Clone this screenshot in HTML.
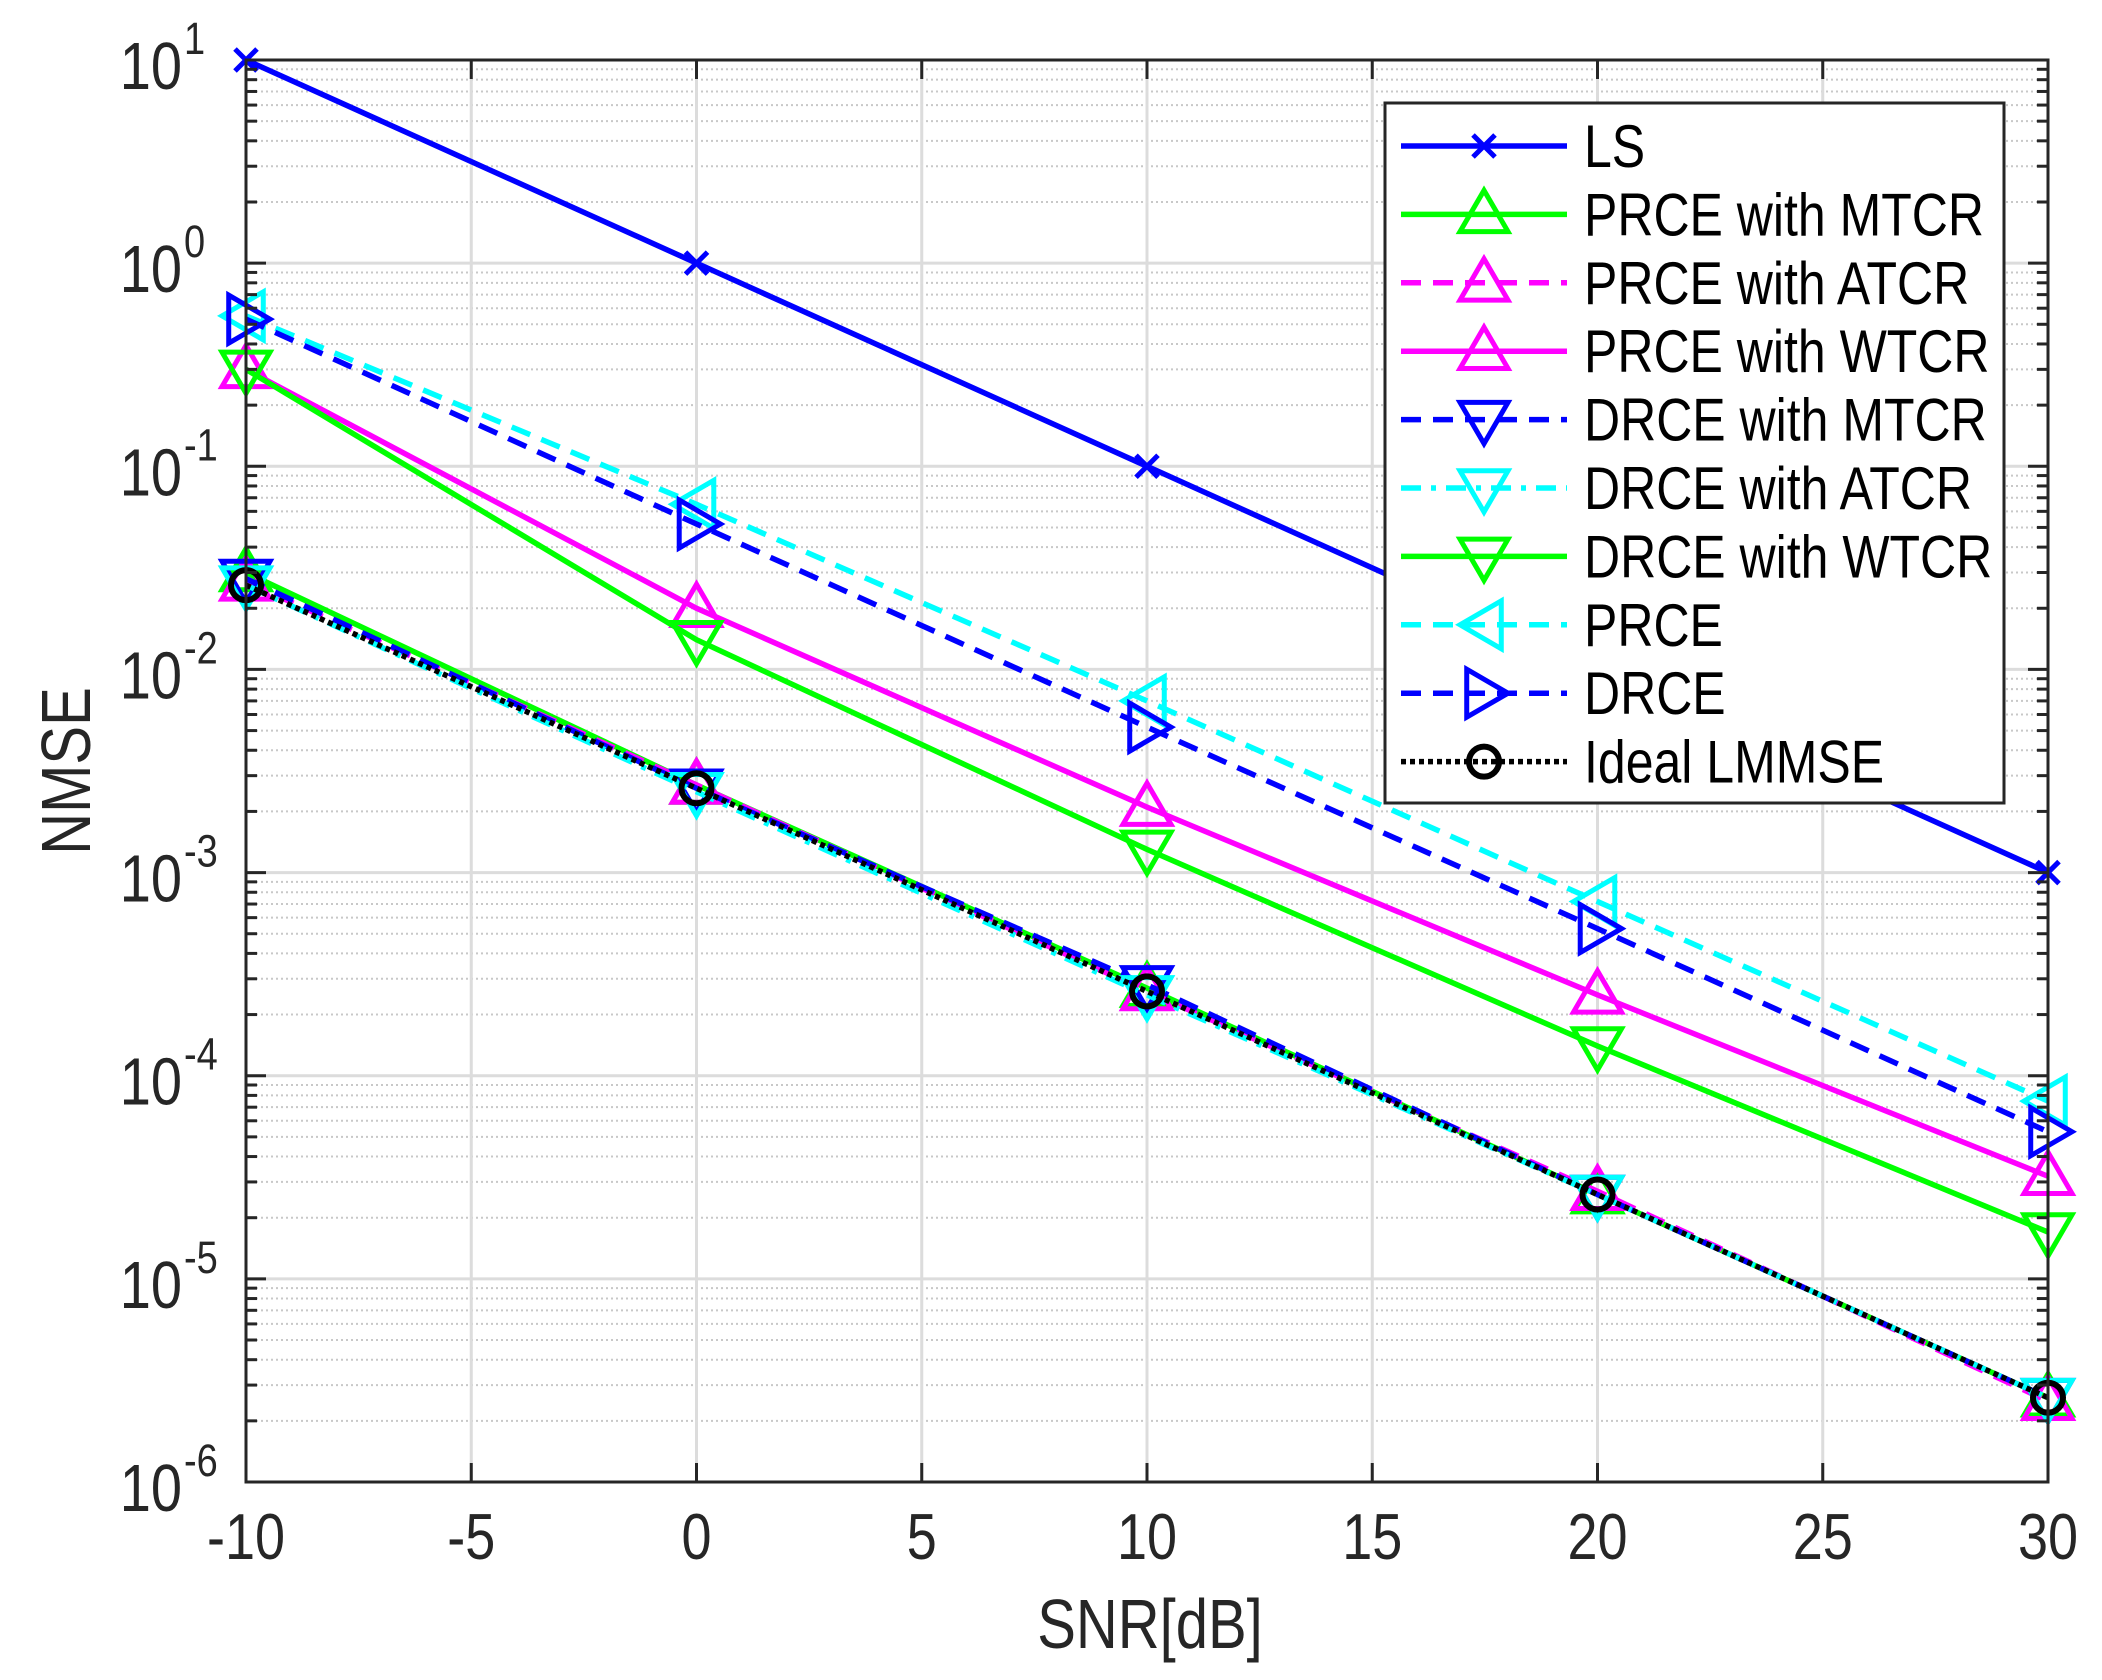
<!DOCTYPE html>
<html><head><meta charset="utf-8"><style>
html,body{margin:0;padding:0;background:#fff;}
svg{display:block;font-family:"Liberation Sans",Arial,sans-serif;}
</style></head><body>
<svg id="chart" width="2102" height="1680" viewBox="0 0 2102 1680" xmlns="http://www.w3.org/2000/svg">
<rect width="2102" height="1680" fill="#fff"/>
<g id="grid"></g>
<g id="series"></g>
<g id="axes"></g>
<g id="legend"></g>
<text transform="translate(1150,1648) scale(1,1.2)" font-size="58" fill="#262626" text-anchor="middle">SNR[dB]</text>
<text transform="translate(90,771) rotate(-90) scale(1,1.2)" font-size="58" fill="#262626" text-anchor="middle">NMSE</text>
</svg>
<script>
const snr = [-10, 0, 10, 20, 30];
const xTicks = [-10, -5, 0, 5, 10, 15, 20, 25, 30];
const yExps = [1, 0, -1, -2, -3, -4, -5, -6];
const seriesNames = ["LS","PRCE with MTCR","PRCE with ATCR","PRCE with WTCR","DRCE with MTCR","DRCE with ATCR","DRCE with WTCR","PRCE","DRCE","Ideal LMMSE"];
const lsVals = [10, 1, 0.1, 0.01, 0.001];
const prceMtcrVals = [0.030, 0.0027, 0.00027, 0.000026, 0.0000026];
const prceAtcrVals = [0.027, 0.0027, 0.00026, 0.000027, 0.0000025];
const prceWtcrVals = [0.30, 0.020, 0.0021, 0.00025, 0.000032];
const drceMtcrVals = [0.028, 0.0026, 0.00028, 0.000026, 0.0000026];
const drceAtcrVals = [0.026, 0.0025, 0.00025, 0.000026, 0.0000026];
const drceWtcrVals = [0.30, 0.014, 0.0013, 0.00014, 0.000017];
const prceVals = [0.55, 0.065, 0.0070, 0.00072, 0.000075];
const drceVals = [0.53, 0.052, 0.0052, 0.00053, 0.000053];
const lmmseVals = [0.026, 0.0026, 0.00026, 0.000026, 0.0000026];

const L=246, R=2048, T=60, B=1482;
const xs = v => L + (v + 10) / 40 * (R - L);
const ys = v => T + (1 - Math.log10(v)) / 7 * (B - T);
const NS="http://www.w3.org/2000/svg";
function mk(tag, attrs, parent){const e=document.createElementNS(NS,tag);for(const k in attrs)e.setAttribute(k,attrs[k]);parent.appendChild(e);return e;}
function txt(x,y,size,anchor,str,parent,fill){const t=mk('text',{transform:`translate(${x},${y}) scale(1,1.2)`,'font-size':size,fill:fill||'#262626','text-anchor':anchor},parent);t.textContent=str;return t;}
const grid=document.getElementById('grid'), axes=document.getElementById('axes'), ser=document.getElementById('series'), leg=document.getElementById('legend');

for(let e=-6;e<1;e++){for(let m=2;m<=9;m++){const y=ys(m*Math.pow(10,e));
 const g=mk('line',{x1:L,x2:R,y1:y,y2:y,stroke:'#c8c8c8','stroke-width':2,'stroke-dasharray':'2,3'},grid);
 
 
 const t1=mk('line',{x1:L,x2:L+11,y1:y,y2:y,stroke:'#262626','stroke-width':3},axes);
 
 
 const t2=mk('line',{x1:R,x2:R-11,y1:y,y2:y,stroke:'#262626','stroke-width':3},axes);
 
 
}}
yExps.forEach(e=>{const y=ys(Math.pow(10,e));
 const g=mk('line',{x1:L,x2:R,y1:y,y2:y,stroke:'#dcdcdc','stroke-width':3},grid);
 
 
 const t1=mk('line',{x1:L,x2:L+20,y1:y,y2:y,stroke:'#262626','stroke-width':3},axes);
 
 
 const t2=mk('line',{x1:R,x2:R-20,y1:y,y2:y,stroke:'#262626','stroke-width':3},axes);
 
 
 const tx=txt(182,y+29,56,'end','10',axes);
 
 
 const sp=txt(184,y-6,38,'start',String(e),axes);
 
 
});
xTicks.forEach(v=>{const x=xs(v);
 const g=mk('line',{x1:x,x2:x,y1:T,y2:B,stroke:'#dcdcdc','stroke-width':3},grid);
 
 
 const t1=mk('line',{x1:x,x2:x,y1:B,y2:B-19,stroke:'#262626','stroke-width':3},axes);
 
 
 const t2=mk('line',{x1:x,x2:x,y1:T,y2:T+19,stroke:'#262626','stroke-width':3},axes);
 
 
 const tx=txt(x,1559,54,'middle',String(v),axes);
 
 
});
const box=mk('rect',{x:L,y:T,width:R-L,height:B-T,fill:'none',stroke:'#262626','stroke-width':3},axes);



function marker(type,x,y,color,parent){
 const s=24; let el; const w=5;
 if(type==='x'){el=mk('path',{d:`M${x-11},${y-11}L${x+11},${y+11}M${x-11},${y+11}L${x+11},${y-11}`,stroke:color,'stroke-width':w,fill:'none'},parent);}
 else if(type==='up'){el=mk('polygon',{points:`${x},${y-s} ${x-s},${y+s*0.72} ${x+s},${y+s*0.72}`,stroke:color,'stroke-width':w,fill:'none'},parent);}
 else if(type==='down'){el=mk('polygon',{points:`${x},${y+s} ${x-s},${y-s*0.72} ${x+s},${y-s*0.72}`,stroke:color,'stroke-width':w,fill:'none'},parent);}
 else if(type==='left'){el=mk('polygon',{points:`${x-s},${y} ${x+s*0.72},${y-s} ${x+s*0.72},${y+s}`,stroke:color,'stroke-width':w,fill:'none'},parent);}
 else if(type==='right'){el=mk('polygon',{points:`${x+s},${y} ${x-s*0.72},${y-s} ${x-s*0.72},${y+s}`,stroke:color,'stroke-width':w,fill:'none'},parent);}
 else {el=mk('circle',{cx:x,cy:y,r:15,stroke:color,'stroke-width':6,fill:'none'},parent);}
 return el;
}
const seriesVals=[lsVals,prceMtcrVals,prceAtcrVals,prceWtcrVals,drceMtcrVals,drceAtcrVals,drceWtcrVals,prceVals,drceVals,lmmseVals];
const colors=['#0000ff','#00ff00','#ff00ff','#ff00ff','#0000ff','#00ffff','#00ff00','#00ffff','#0000ff','#000000'];
const dashes=['none','none','20,12','none','20,12','20,10,5,10','none','20,12','20,12','5,4'];
const marks=['x','up','up','up','down','down','down','left','right','o'];
const order=[0,3,6,7,8,1,2,4,5,9];
order.forEach(i=>{
 const g=mk('g',{},ser);
 
 
 const pts=snr.map((s,k)=>xs(s)+','+ys(seriesVals[i][k])).join(' ');
 const pl=mk('polyline',{points:pts,fill:'none',stroke:colors[i],'stroke-width':5.5,'stroke-dasharray':dashes[i]},g);
 
 
 snr.forEach((s,k)=>{const m=marker(marks[i],xs(s),ys(seriesVals[i][k]),colors[i],g);
  
  });
});
const lb=mk('rect',{x:1385,y:103,width:619,height:700,fill:'#fff',stroke:'#262626','stroke-width':3},leg);


seriesNames.forEach((n,i)=>{
 const y=146+i*68.4;
 const g=mk('g',{},leg);
 
 
 mk('line',{x1:1401,x2:1567,y1:y,y2:y,stroke:colors[i],'stroke-width':5.5,'stroke-dasharray':dashes[i]},g);
 marker(marks[i],1484,y,colors[i],g);
 const t=txt(1584,y+21,50,'start',n,g,'#000');
 
 
});
</script>
</body></html>
